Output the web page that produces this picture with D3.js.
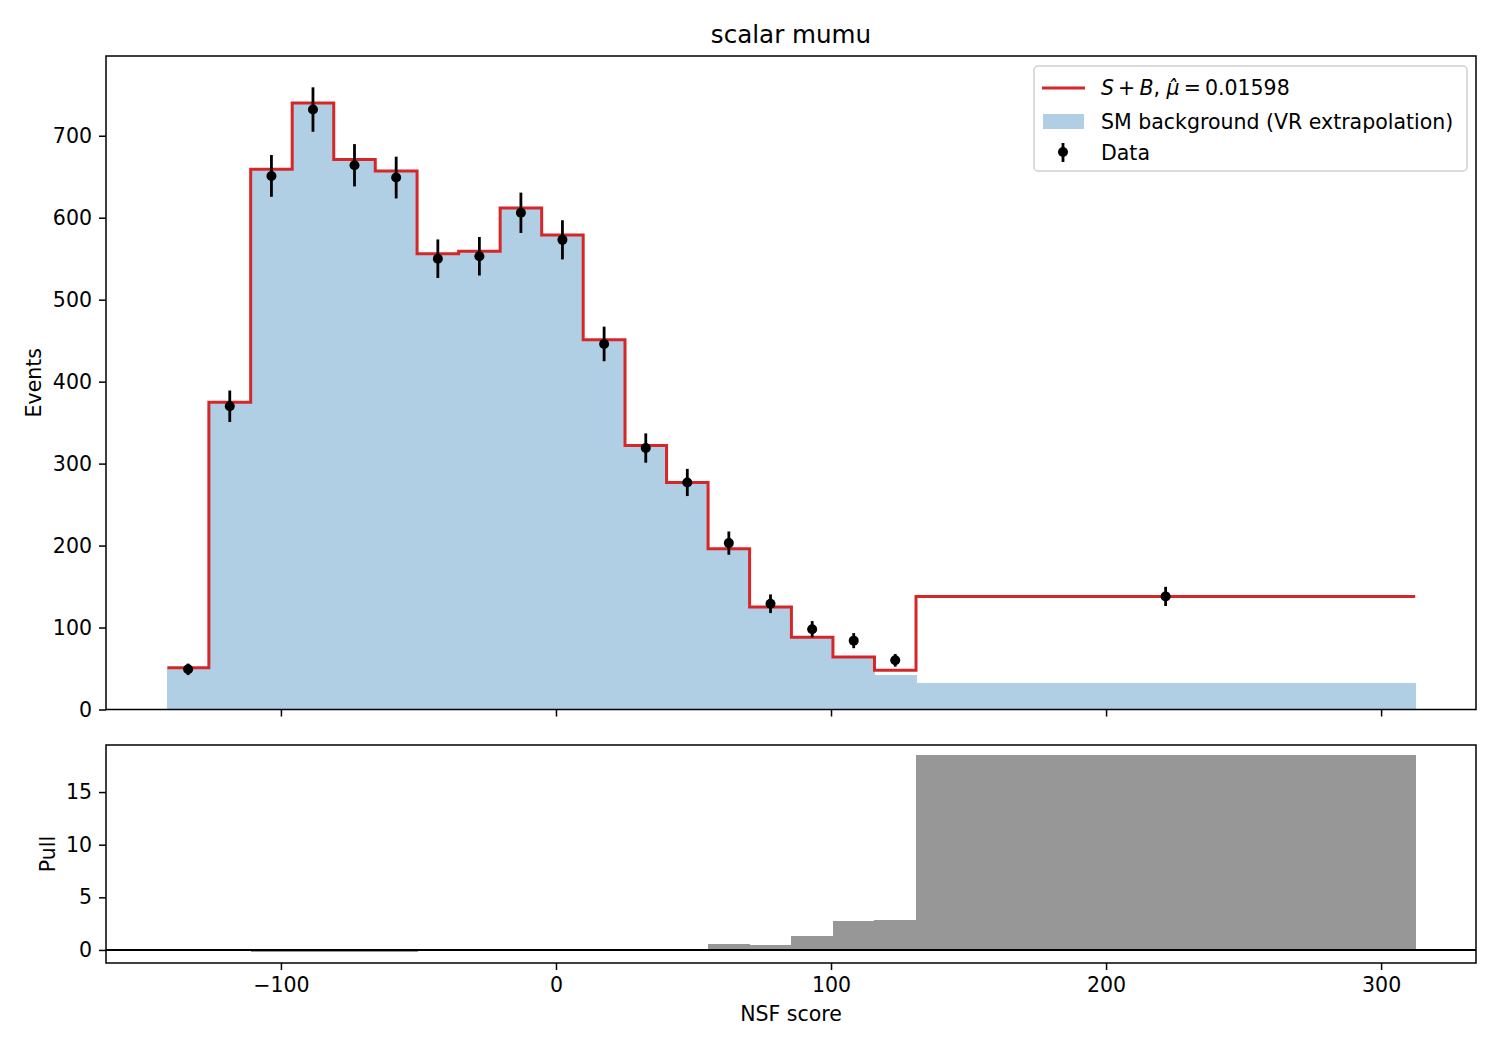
<!DOCTYPE html>
<html>
<head>
<meta charset="utf-8">
<script src="https://cdn.jsdelivr.net/npm/d3@7"></script>
<style>
  body { margin: 0; background: #fff; }
  svg text { font-family: "DejaVu Sans", sans-serif; fill: #000; }
  .axis path, .axis line { stroke: #000; stroke-width: 1.5; }
  .axis text { font-size: 20.5px; font-family: "DejaVu Sans", sans-serif; }
</style>
</head>
<body>
<script>
// bin edges of NSF score
var edges = [-141.3, -126.2, -111.0, -95.9, -80.8, -65.7, -50.5, -35.4, -20.3, -5.2,
             9.9, 25.1, 40.2, 55.3, 70.4, 85.6, 100.7, 115.8, 130.9, 312.4];
// S+B prediction per bin
var splusb = [51, 375, 659, 740, 671, 657, 556, 559, 612, 579,
              451, 322, 277, 196, 125, 88, 64, 48, 138];
// SM background (VR extrapolation)
var background = [49, 375, 659, 740, 671, 657, 556, 559, 612, 579,
                  451, 322, 277, 196, 125, 88, 64, 41.5, 32.5];
// observed data and errors
var dataVals = [49, 370, 651, 732, 664, 649, 550, 553, 606, 573,
                446, 319, 277, 203, 129, 98, 84, 60, 138];
var dataErr = [7, 19.2, 25.5, 27.1, 25.8, 25.5, 23.5, 23.5, 24.6, 23.9,
               21.1, 17.9, 16.6, 14.2, 11.4, 9.9, 9.2, 7.7, 11.7];
// pull per bin
var pulls = [0, -0.1, -0.22, -0.22, -0.22, -0.22, -0.1, -0.1, -0.1, -0.1,
             -0.1, -0.1, 0, 0.57, 0.47, 1.33, 2.75, 2.85, 18.5];

var xTicks = [-100, 0, 100, 200, 300];
var yTicksTop = [0, 100, 200, 300, 400, 500, 600, 700];
var yTicksPull = [0, 5, 10, 15];

var width = 1500, height = 1050;
var left = 106, right = 1476;
var top1 = 56, bot1 = 709.5;
var top2 = 745, bot2 = 963;

var svg = d3.select("body").append("svg")
            .attr("width", width)
            .attr("height", height);

var x = d3.scaleLinear().domain([-163.6, 334.5]).range([left, right]);
var y = d3.scaleLinear().domain([0, 797.3]).range([bot1, top1]);
var yp = d3.scaleLinear().domain([-1.24, 19.47]).range([bot2, top2]);

var bins = splusb.map((d, i) => ({x0: edges[i], x1: edges[i + 1], i: i}));

// ---- main panel ----
var upper = svg.append("g");

upper.selectAll("rect.bkg")
   .data(bins).enter()
   .append("rect")
   .attr("class", "bkg")
   .attr("x", d => x(d.x0))
   .attr("width", d => x(d.x1) - x(d.x0) + 0.5)
   .attr("y", d => y(background[d.i]))
   .attr("height", d => y(0) - y(background[d.i]))
   .attr("fill", "#b0cfe4")
   .attr("shape-rendering", "crispEdges");

// S+B step line
var stepPts = [];
bins.forEach(d => {
    stepPts.push([x(d.x0), y(splusb[d.i])]);
    stepPts.push([x(d.x1), y(splusb[d.i])]);
});
upper.append("path")
   .attr("d", d3.line()(stepPts))
   .attr("fill", "none")
   .attr("stroke", "#d62728")
   .attr("stroke-width", 3)
   .attr("stroke-linejoin", "miter");

// data points
var centers = bins.map(d => (d.x0 + d.x1) / 2);
upper.selectAll("line.err")
   .data(dataVals).enter()
   .append("line")
   .attr("class", "err")
   .attr("x1", (d, i) => x(centers[i]))
   .attr("x2", (d, i) => x(centers[i]))
   .attr("y1", (d, i) => y(d - dataErr[i]))
   .attr("y2", (d, i) => y(d + dataErr[i]))
   .attr("stroke", "#000")
   .attr("stroke-width", 2.8);
upper.selectAll("circle.pt")
   .data(dataVals).enter()
   .append("circle")
   .attr("class", "pt")
   .attr("cx", (d, i) => x(centers[i]))
   .attr("cy", d => y(d))
   .attr("r", 5)
   .attr("fill", "#000");

// frame + axes
upper.append("rect")
   .attr("x", left).attr("y", top1)
   .attr("width", right - left).attr("height", bot1 - top1)
   .attr("fill", "none").attr("stroke", "#000").attr("stroke-width", 1.5);

upper.append("g")
   .attr("class", "axis")
   .attr("transform", "translate(" + left + ",0)")
   .call(d3.axisLeft(y).tickValues(yTicksTop).tickSize(7).tickPadding(7))
   .call(g => g.select(".domain").remove());

upper.append("g")
   .attr("class", "axis")
   .attr("transform", "translate(0," + bot1 + ")")
   .call(d3.axisBottom(x).tickValues(xTicks).tickSize(7).tickFormat(""))
   .call(g => g.select(".domain").remove());

svg.append("text")
   .attr("x", (left + right) / 2).attr("y", 43)
   .attr("text-anchor", "middle")
   .style("font-size", "24.6px")
   .text("scalar mumu");

svg.append("text")
   .attr("transform", "translate(41," + (top1 + bot1) / 2 + ") rotate(-90)")
   .attr("text-anchor", "middle")
   .style("font-size", "20.5px")
   .text("Events");

// legend
var lg = svg.append("g");
lg.append("rect")
  .attr("x", 1034).attr("y", 66)
  .attr("width", 433).attr("height", 105)
  .attr("rx", 4)
  .attr("fill", "#fff").attr("fill-opacity", 0.8)
  .attr("stroke", "#d0d0d0").attr("stroke-width", 1.5);
lg.append("line")
  .attr("x1", 1042).attr("x2", 1085).attr("y1", 88).attr("y2", 88)
  .attr("stroke", "#d62728").attr("stroke-width", 3);
var t1 = lg.append("text").attr("x", 1101).attr("y", 95).style("font-size", "20.5px");
t1.append("tspan").style("font-style", "italic").text("S");
t1.append("tspan").text("\u2009+\u2009");
t1.append("tspan").style("font-style", "italic").text("B");
t1.append("tspan").text(", ");
t1.append("tspan").style("font-style", "italic").text("\u03bc\u0302");
t1.append("tspan").text("\u2009=\u20090.01598");
lg.append("rect")
  .attr("x", 1043).attr("y", 114).attr("width", 41).attr("height", 15)
  .attr("fill", "#b0cfe4");
lg.append("text").attr("x", 1101).attr("y", 128.5).style("font-size", "20.5px")
  .text("SM background (VR extrapolation)");
lg.append("line")
  .attr("x1", 1063).attr("x2", 1063).attr("y1", 143).attr("y2", 162)
  .attr("stroke", "#000").attr("stroke-width", 2.8);
lg.append("circle").attr("cx", 1063).attr("cy", 152).attr("r", 5).attr("fill", "#000");
lg.append("text").attr("x", 1101).attr("y", 159.5).style("font-size", "20.5px")
  .text("Data");

// ---- pull panel ----
var lower = svg.append("g");

lower.selectAll("rect.pull")
   .data(bins).enter()
   .append("rect")
   .attr("class", "pull")
   .attr("x", d => x(d.x0))
   .attr("width", d => x(d.x1) - x(d.x0) + 0.5)
   .attr("y", d => Math.min(yp(pulls[d.i]), yp(0)))
   .attr("height", d => Math.abs(yp(pulls[d.i]) - yp(0)))
   .attr("fill", "#979797")
   .attr("shape-rendering", "crispEdges");

lower.append("line")
   .attr("x1", left).attr("x2", right)
   .attr("y1", yp(0)).attr("y2", yp(0))
   .attr("stroke", "#000").attr("stroke-width", 2);

lower.append("rect")
   .attr("x", left).attr("y", top2)
   .attr("width", right - left).attr("height", bot2 - top2)
   .attr("fill", "none").attr("stroke", "#000").attr("stroke-width", 1.5);

lower.append("g")
   .attr("class", "axis")
   .attr("transform", "translate(" + left + ",0)")
   .call(d3.axisLeft(yp).tickValues(yTicksPull).tickSize(7).tickPadding(7))
   .call(g => g.select(".domain").remove());

lower.append("g")
   .attr("class", "axis")
   .attr("transform", "translate(0," + bot2 + ")")
   .call(d3.axisBottom(x).tickValues(xTicks).tickSize(7).tickPadding(7)
           .tickFormat(d => d < 0 ? "\u2212" + Math.abs(d) : d))
   .call(g => g.select(".domain").remove());

svg.append("text")
   .attr("transform", "translate(55," + (top2 + bot2) / 2 + ") rotate(-90)")
   .attr("text-anchor", "middle")
   .style("font-size", "20.5px")
   .text("Pull");

svg.append("text")
   .attr("x", (left + right) / 2).attr("y", 1021)
   .attr("text-anchor", "middle")
   .style("font-size", "20.5px")
   .text("NSF score");
</script>
</body>
</html>
